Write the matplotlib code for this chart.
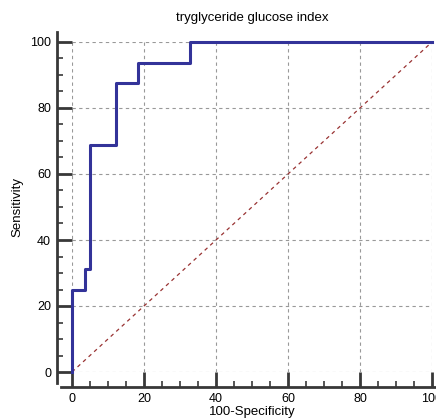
import matplotlib.pyplot as plt
from matplotlib.ticker import MultipleLocator

plt.rcParams['font.family'] = ['Liberation Sans', 'DejaVu Sans']

# ROC curve points (100-Specificity, Sensitivity)
fpr = [0, 0, 3.7, 3.7, 4.9, 4.9, 12.2, 12.2, 18.3, 18.3, 32.9, 32.9, 100]
tpr = [0, 25, 25, 31.25, 31.25, 68.75, 68.75, 87.5, 87.5, 93.75, 93.75, 100, 100]
diag = [0, 100]

fig = plt.figure(figsize=(4.36, 4.19), dpi=100)
ax = fig.add_axes([72 / 436, 47 / 419, 360 / 436, 330 / 419])

ax.plot(fpr, tpr, color='#333399', linewidth=2.2, zorder=3, clip_on=False)
ax.plot(diag, diag, color='#993333', linewidth=0.9, linestyle=(0, (3, 3)), zorder=2)

ax.set_xlim(0, 100)
ax.set_ylim(0, 100)
ax.xaxis.set_major_locator(MultipleLocator(20))
ax.yaxis.set_major_locator(MultipleLocator(20))
ax.xaxis.set_minor_locator(MultipleLocator(5))
ax.yaxis.set_minor_locator(MultipleLocator(5))

for s in ['top', 'right']:
    ax.spines[s].set_visible(False)
for s in ['left', 'bottom']:
    ax.spines[s].set_position(('outward', 11))
    ax.spines[s].set_linewidth(2)
    ax.spines[s].set_color('#383838')
ax.spines['left'].set_bounds(-3.4, 103)
ax.spines['bottom'].set_bounds(-3.1, 101.5)

ax.tick_params(which='major', direction='in', length=11, width=2, color='#383838',
               labelsize=9, pad=4)
ax.tick_params(which='minor', direction='in', length=4, width=1.2, color='#383838')

ax.grid(True, which='major', color='#999999', linestyle=(0, (3, 3)), linewidth=0.8)
ax.set_axisbelow(True)

ax.set_title('tryglyceride glucose index', fontsize=9.5, pad=15)
ax.set_xlabel('100-Specificity', fontsize=9.5, labelpad=1)
ax.set_ylabel('Sensitivity', fontsize=9.5, labelpad=5)

fig.savefig('out.png', dpi=100)
